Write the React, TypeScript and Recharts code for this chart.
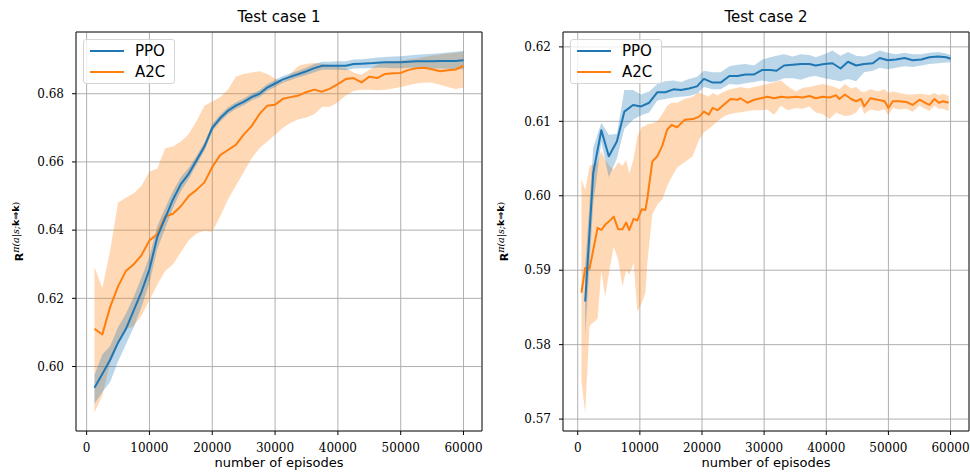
import { ComposedChart, Line, Area, XAxis, YAxis, CartesianGrid, ReferenceArea, Label } from 'recharts';

const PPO_COLOR = '#1f77b4';
const A2C_COLOR = '#ff7f0e';

// ---- Test case 1 ----
const episodes1 = [
  1250, 2500, 3750, 5000, 6250, 7500, 8750, 10000, 11250, 12500, 13750, 15000,
  16250, 17500, 18750, 20000, 21250, 22500, 23750, 25000, 26250, 27500, 28750, 30000,
  31250, 32500, 33750, 35000, 36250, 37500, 38750, 40000, 41250, 42500, 43750, 45000,
  46250, 47500, 48750, 50000, 51250, 52500, 53750, 55000, 56250, 57500, 58750, 60000,
];
const ppo1 = [
  0.5938, 0.5978, 0.6020, 0.6070, 0.6110, 0.6165, 0.6220, 0.6285, 0.6380, 0.6435, 0.6490, 0.6535,
  0.6565, 0.6605, 0.6645, 0.6700, 0.6728, 0.6750, 0.6765, 0.6776, 0.6790, 0.6800, 0.6818, 0.6830,
  0.6842, 0.6850, 0.6858, 0.6866, 0.6875, 0.6882, 0.6882, 0.6882, 0.6882, 0.6887, 0.6888, 0.6889,
  0.6891, 0.6892, 0.6892, 0.6892, 0.6894, 0.6895, 0.6895, 0.6895, 0.6896, 0.6896, 0.6896, 0.6898,
];
const ppo1Low = [
  0.5890, 0.5925, 0.5955, 0.6015, 0.6065, 0.6115, 0.6175, 0.6245, 0.6345, 0.6405, 0.6465, 0.6515,
  0.6550, 0.6592, 0.6633, 0.6690, 0.6718, 0.6740, 0.6755, 0.6766, 0.6780, 0.6790, 0.6808, 0.6820,
  0.6832, 0.6840, 0.6848, 0.6855, 0.6863, 0.6870, 0.6870, 0.6870, 0.6869, 0.6874, 0.6875, 0.6875,
  0.6876, 0.6876, 0.6875, 0.6875, 0.6876, 0.6876, 0.6875, 0.6874, 0.6874, 0.6873, 0.6872, 0.6872,
];
const ppo1High = [
  0.5975, 0.6035, 0.6060, 0.6115, 0.6155, 0.6205, 0.6262, 0.6322, 0.6412, 0.6465, 0.6515, 0.6555,
  0.6582, 0.6618, 0.6657, 0.6711, 0.6738, 0.6760, 0.6775, 0.6786, 0.6800, 0.6810, 0.6828, 0.6840,
  0.6852, 0.6860, 0.6868, 0.6877, 0.6887, 0.6894, 0.6894, 0.6895, 0.6895, 0.6900, 0.6901, 0.6903,
  0.6906, 0.6908, 0.6909, 0.6910, 0.6912, 0.6914, 0.6916, 0.6917, 0.6919, 0.6921, 0.6923, 0.6926,
];
const a2c1 = [
  0.6111, 0.6094, 0.6175, 0.6235, 0.6280, 0.6300, 0.6327, 0.6370, 0.6388, 0.6440, 0.6448, 0.6470,
  0.6500, 0.6518, 0.6540, 0.6585, 0.6620, 0.6635, 0.6650, 0.6680, 0.6705, 0.6740, 0.6765, 0.6768,
  0.6785, 0.6790, 0.6795, 0.6805, 0.6812, 0.6806, 0.6815, 0.6828, 0.6843, 0.6846, 0.6833, 0.6850,
  0.6846, 0.6858, 0.6860, 0.6861, 0.6870, 0.6875, 0.6876, 0.6872, 0.6866, 0.6869, 0.6871, 0.6882,
];
const a2c1Low = [
  0.5865, 0.5915, 0.6010, 0.6065, 0.6110, 0.6118, 0.6150, 0.6195, 0.6240, 0.6280, 0.6300, 0.6335,
  0.6370, 0.6390, 0.6398, 0.6395, 0.6440, 0.6490, 0.6530, 0.6570, 0.6610, 0.6640, 0.6660, 0.6680,
  0.6700, 0.6715, 0.6725, 0.6730, 0.6740, 0.6762, 0.6762, 0.6775, 0.6795, 0.6808, 0.6812, 0.6812,
  0.6810, 0.6812, 0.6815, 0.6820, 0.6825, 0.6830, 0.6833, 0.6832, 0.6826, 0.6820, 0.6814, 0.6818,
];
const a2c1High = [
  0.6292, 0.6230, 0.6340, 0.6480, 0.6495, 0.6508, 0.6530, 0.6572, 0.6580, 0.6640, 0.6645, 0.6660,
  0.6682, 0.6720, 0.6765, 0.6777, 0.6790, 0.6812, 0.6850, 0.6858, 0.6862, 0.6866, 0.6858, 0.6845,
  0.6835, 0.6860, 0.6882, 0.6888, 0.6890, 0.6888, 0.6885, 0.6880, 0.6875, 0.6862, 0.6856, 0.6870,
  0.6885, 0.6892, 0.6895, 0.6897, 0.6900, 0.6903, 0.6908, 0.6912, 0.6915, 0.6918, 0.6920, 0.6922,
];

// ---- Test case 2 ----
const ppoEpisodes2 = [
  1200, 2500, 3800, 5000, 6300, 7500, 8900, 10200, 11500, 12800, 14100, 15400,
  16600, 17900, 19200, 20300, 21700, 23000, 24400, 25700, 27000, 28400, 29700, 31000,
  32000, 33200, 34600, 35900, 37300, 38300, 39700, 41000, 42300, 43500, 44800, 46100,
  47500, 48600, 49900, 51200, 52600, 53900, 55300, 56600, 58000, 59300, 60000,
];
const ppo2 = [
  0.5858, 0.6031, 0.6088, 0.6053, 0.6073, 0.6113, 0.6122, 0.6120, 0.6125, 0.6139, 0.6139, 0.6143,
  0.6142, 0.6144, 0.6147, 0.6157, 0.6152, 0.6152, 0.6161, 0.6161, 0.6163, 0.6163, 0.6169, 0.6169,
  0.6168, 0.6175, 0.6176, 0.6177, 0.6177, 0.6175, 0.6177, 0.6178, 0.6171, 0.6180, 0.6175, 0.6177,
  0.6178, 0.6185, 0.6182, 0.6183, 0.6185, 0.6182, 0.6183, 0.6186, 0.6187, 0.6186, 0.6184,
];
const ppo2Low = [
  0.5810, 0.5990, 0.6072, 0.6025, 0.6050, 0.6090, 0.6102, 0.6108, 0.6112, 0.6128, 0.6130, 0.6132,
  0.6133, 0.6134, 0.6137, 0.6146, 0.6143, 0.6143, 0.6150, 0.6149, 0.6151, 0.6153, 0.6155, 0.6153,
  0.6154, 0.6158, 0.6158, 0.6156, 0.6160, 0.6161, 0.6158, 0.6156, 0.6154, 0.6157, 0.6154, 0.6166,
  0.6168, 0.6172, 0.6170, 0.6172, 0.6174, 0.6173, 0.6175, 0.6177, 0.6178, 0.6179, 0.6179,
];
const ppo2High = [
  0.5905, 0.6065, 0.6098, 0.6082, 0.6083, 0.6142, 0.6142, 0.6136, 0.6140, 0.6150, 0.6154, 0.6155,
  0.6153, 0.6157, 0.6160, 0.6168, 0.6166, 0.6166, 0.6174, 0.6176, 0.6177, 0.6175, 0.6183, 0.6186,
  0.6188, 0.6190, 0.6187, 0.6190, 0.6189, 0.6186, 0.6190, 0.6195, 0.6188, 0.6193, 0.6188, 0.6187,
  0.6191, 0.6195, 0.6192, 0.6190, 0.6192, 0.6190, 0.6190, 0.6192, 0.6193, 0.6191, 0.6189,
];
const a2cEpisodes2 = [
  600, 1200, 1900, 3200, 3800, 4400, 5100, 5800, 6500, 7200, 7800, 8300,
  9000, 9600, 10300, 10900, 11200, 12000, 12800, 13600, 14400, 15100, 16000, 17200,
  18500, 19500, 20300, 21100, 21700, 22500, 23600, 24600, 25700, 26200, 27300, 28400,
  29500, 30500, 31600, 32700, 33800, 35100, 36200, 37300, 38300, 39400, 40500, 41600,
  42100, 43000, 44000, 44800, 45600, 46100, 47100, 48300, 49400, 50000, 50700, 51800,
  52900, 53900, 55000, 56100, 56600, 57400, 58100, 58800, 59700,
];
const a2c2 = [
  0.5870, 0.5903, 0.5902, 0.5957, 0.5954, 0.5961, 0.5966, 0.5972, 0.5955, 0.5955, 0.5964, 0.5954,
  0.5969, 0.5967, 0.5982, 0.5981, 0.5996, 0.6046, 0.6053, 0.6067, 0.6089, 0.6095, 0.6092, 0.6102,
  0.6103, 0.6106, 0.6113, 0.6109, 0.6118, 0.6115, 0.6123, 0.6130, 0.6129, 0.6131, 0.6125, 0.6129,
  0.6131, 0.6133, 0.6131, 0.6133, 0.6132, 0.6133, 0.6132, 0.6134, 0.6131, 0.6133, 0.6132, 0.6135,
  0.6130, 0.6136, 0.6130, 0.6127, 0.6130, 0.6120, 0.6131, 0.6129, 0.6127, 0.6118, 0.6127, 0.6127,
  0.6126, 0.6122, 0.6129, 0.6124, 0.6122, 0.6130, 0.6125, 0.6127, 0.6125,
];
const a2c2Low = [
  0.5752, 0.5708, 0.5825, 0.5835, 0.5900, 0.5864, 0.5900, 0.5932, 0.5914, 0.5878, 0.5900, 0.5894,
  0.5910, 0.5844, 0.5856, 0.5870, 0.5910, 0.5975, 0.5988, 0.5995, 0.6013, 0.6025, 0.6038, 0.6045,
  0.6053, 0.6075, 0.6085, 0.6090, 0.6094, 0.6100, 0.6107, 0.6110, 0.6112, 0.6112, 0.6114, 0.6115,
  0.6115, 0.6116, 0.6109, 0.6121, 0.6115, 0.6118, 0.6117, 0.6120, 0.6112, 0.6110, 0.6103, 0.6112,
  0.6110, 0.6107, 0.6108, 0.6112, 0.6121, 0.6110, 0.6116, 0.6114, 0.6116, 0.6108, 0.6118, 0.6116,
  0.6117, 0.6113, 0.6121, 0.6116, 0.6114, 0.6121, 0.6117, 0.6117, 0.6114,
];
const a2c2High = [
  0.6022, 0.6008, 0.6040, 0.6045, 0.6060, 0.6048, 0.6040, 0.6035, 0.6045, 0.6040, 0.6048, 0.6030,
  0.6050, 0.6080, 0.6092, 0.6094, 0.6096, 0.6097, 0.6100, 0.6110, 0.6121, 0.6125, 0.6125, 0.6130,
  0.6133, 0.6139, 0.6136, 0.6133, 0.6138, 0.6135, 0.6140, 0.6143, 0.6145, 0.6146, 0.6144, 0.6146,
  0.6148, 0.6150, 0.6152, 0.6155, 0.6147, 0.6140, 0.6145, 0.6146, 0.6148, 0.6150, 0.6148, 0.6145,
  0.6143, 0.6150, 0.6144, 0.6146, 0.6140, 0.6139, 0.6143, 0.6140, 0.6143, 0.6138, 0.6140, 0.6138,
  0.6136, 0.6136, 0.6137, 0.6136, 0.6135, 0.6138, 0.6135, 0.6137, 0.6134,
];

const xTicks = [0, 10000, 20000, 30000, 40000, 50000, 60000];
const yTicks1 = [0.60, 0.62, 0.64, 0.66, 0.68];
const yTicks2 = [0.57, 0.58, 0.59, 0.60, 0.61, 0.62];

const toRows = (xs: number[], mean: number[], lo: number[], hi: number[]) =>
  xs.map((x, i) => ({ x, mean: mean[i], band: [lo[i], hi[i]] }));

const tickStyle = { fill: '#000', fontSize: 12, fontFamily: 'DejaVu Serif' };

function YLabel(props: any) {
  const vb = props.viewBox;
  const cy = vb.y + vb.height / 2;
  return (
    <text transform={`translate(23,${cy}) rotate(-90)`} textAnchor="middle" fill="#000">
      <tspan fontFamily="DejaVu Sans" fontWeight="bold" fontSize={11}>R</tspan>
      <tspan dy={-4} fontSize={9.5} fontFamily="DejaVu Serif" fontStyle="italic">π(a|s;</tspan>
      <tspan fontSize={9.5} fontFamily="DejaVu Sans" fontWeight="bold">k⇒k</tspan>
      <tspan fontSize={9.5} fontFamily="DejaVu Serif">)</tspan>
    </text>
  );
}

function XLabel(props: any) {
  const vb = props.viewBox;
  return (
    <text x={vb.x + vb.width / 2} y={vb.y + 36} textAnchor="middle" fill="#000"
      fontFamily="DejaVu Sans" fontSize={13}>
      number of episodes
    </text>
  );
}

function LegendBox() {
  const item = (label: string, color: string, y: number) => (
    <div style={{ position: 'absolute', left: 0, top: y, height: 20, width: 90 }}>
      <div style={{ position: 'absolute', left: 6, top: 9, width: 34, height: 2, background: color }} />
      <div style={{ position: 'absolute', left: 51, top: 0, lineHeight: '20px', fontSize: 15, fontFamily: 'DejaVu Sans' }}>{label}</div>
    </div>
  );
  return (
    <div style={{
      position: 'absolute', width: 90, height: 43, border: '1px solid #d5d5d5', borderRadius: 3,
      background: 'rgba(255,255,255,0.8)',
    }}>
      {item('PPO', PPO_COLOR, 1)}
      {item('A2C', A2C_COLOR, 22)}
    </div>
  );
}

type PanelProps = {
  title: string;
  left: number;
  yAxisWidth: number;
  marginRight: number;
  xDomain: [number, number];
  yDomain: [number, number];
  yTicks: number[];
  ppo: any[];
  a2c: any[];
};

function Panel({ title, left, yAxisWidth, marginRight, xDomain, yDomain, yTicks, ppo, a2c }: PanelProps) {
  const width = 485;
  const plotLeft = yAxisWidth;
  const plotRight = width - marginRight;
  return (
    <div style={{ position: 'absolute', left, top: 0, width, height: 475 }}>
      <div style={{
        position: 'absolute', left: plotLeft, width: plotRight - plotLeft, top: 7, textAlign: 'center',
        fontFamily: 'DejaVu Sans', fontSize: 15, lineHeight: '20px', color: '#000',
      }}>{title}</div>
      <ComposedChart width={width} height={475} margin={{ top: 32, right: marginRight, bottom: 0, left: 0 }}>
        <XAxis type="number" dataKey="x" domain={xDomain} ticks={xTicks} allowDataOverflow
          height={44} tickSize={4} tickMargin={8} tick={tickStyle}
          axisLine={false} tickLine={{ stroke: '#000' }}>
          <Label content={XLabel} />
        </XAxis>
        <YAxis type="number" domain={yDomain} ticks={yTicks} allowDataOverflow
          width={yAxisWidth} tickSize={4} tickMargin={8} tick={tickStyle}
          tickFormatter={(v: number) => v.toFixed(2)}
          axisLine={false} tickLine={{ stroke: '#000' }}>
          <Label content={YLabel} />
        </YAxis>
        <Area data={a2c} dataKey="band" type="linear" stroke="none" fill={A2C_COLOR} fillOpacity={0.3} isAnimationActive={false} />
        <Area data={ppo} dataKey="band" type="linear" stroke="none" fill={PPO_COLOR} fillOpacity={0.3} isAnimationActive={false} />
        <CartesianGrid stroke="#b0b0b0" strokeWidth={1} />
        <Line data={a2c} dataKey="mean" type="linear" stroke={A2C_COLOR} strokeWidth={2} dot={false}
          strokeLinejoin="round" isAnimationActive={false} />
        <Line data={ppo} dataKey="mean" type="linear" stroke={PPO_COLOR} strokeWidth={2} dot={false}
          strokeLinejoin="round" isAnimationActive={false} />
        <ReferenceArea x1={xDomain[0]} x2={xDomain[1]} y1={yDomain[0]} y2={yDomain[1]}
          fill="none" stroke="#222" strokeWidth={1} ifOverflow="visible" />
      </ComposedChart>
      <div style={{ position: 'absolute', left: plotLeft + 7, top: 39 }}>
        <LegendBox />
      </div>
    </div>
  );
}

export default function App() {
  return (
    <div style={{ position: 'absolute', left: 0, top: 0, width: 970, height: 475, background: '#fff' }}>
      <Panel title="Test case 1" left={0} yAxisWidth={76} marginRight={3}
        xDomain={[-1690, 62940]} yDomain={[0.5811, 0.6981]} yTicks={yTicks1}
        ppo={toRows(episodes1, ppo1, ppo1Low, ppo1High)}
        a2c={toRows(episodes1, a2c1, a2c1Low, a2c1High)} />
      <Panel title="Test case 2" left={485} yAxisWidth={78} marginRight={1}
        xDomain={[-2370, 62970]} yDomain={[0.5684, 0.6220]} yTicks={yTicks2}
        ppo={toRows(ppoEpisodes2, ppo2, ppo2Low, ppo2High)}
        a2c={toRows(a2cEpisodes2, a2c2, a2c2Low, a2c2High)} />
    </div>
  );
}
